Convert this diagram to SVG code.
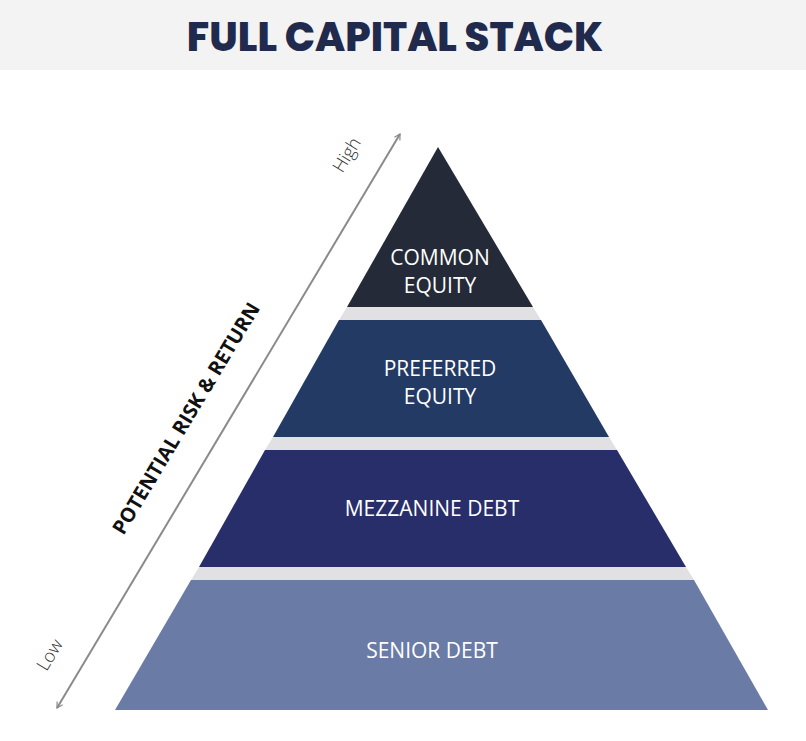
<svg xmlns="http://www.w3.org/2000/svg" width="806" height="741" viewBox="0 0 806 741">
<defs>
<style>
.lbl{font-family:"Open Sans","Liberation Sans",sans-serif;font-size:21px;fill:#fff;text-anchor:middle}
.gap{fill:#e1e1e4}
</style>
<marker id="ah" viewBox="0 0 10 10" refX="8" refY="5" markerWidth="8" markerHeight="8" orient="auto-start-reverse" markerUnits="userSpaceOnUse">
<path d="M1,1 L8,5 L1,9" fill="none" stroke="#8a8a8a" stroke-width="1.5"/>
</marker>
</defs>
<rect width="806" height="741" fill="#fff"/>
<rect width="806" height="70" fill="#f3f3f3"/>
<text x="395" y="51" font-family="Poppins,'Open Sans','Liberation Sans',sans-serif" font-weight="800" font-size="40" fill="#1f2a4d" text-anchor="middle">FULL CAPITAL STACK</text>
<g id="gaps">
<polygon class="gap" points="347,307 533,307 541,320 339,320"/>
<polygon class="gap" points="273,437 609,437 617,450 265,450"/>
<polygon class="gap" points="199,567 686,567 694,580 191,580"/>
</g>
<g id="common-equity">
<polygon points="438,147 533,307 347,307" fill="#242a37"/>
<text class="lbl" x="440" y="265">COMMON</text>
<text class="lbl" x="440" y="293">EQUITY</text>
</g>
<g id="preferred-equity">
<polygon points="339,320 541,320 609,437 273,437" fill="#233a64"/>
<text class="lbl" x="440" y="376">PREFERRED</text>
<text class="lbl" x="440" y="404">EQUITY</text>
</g>
<g id="mezzanine-debt">
<polygon points="265,450 617,450 686,567 199,567" fill="#272e6a"/>
<text class="lbl" x="432" y="516">MEZZANINE DEBT</text>
</g>
<g id="senior-debt">
<polygon points="191,580 694,580 768,710 115,710" fill="#6a7ba6"/>
<text class="lbl" x="432" y="658">SENIOR DEBT</text>
</g>
<g id="connectors">
<line x1="57" y1="708" x2="400" y2="134" stroke="#8a8a8a" stroke-width="2" marker-start="url(#ah)" marker-end="url(#ah)"/>
</g>
<g id="axis-labels" font-family="'Open Sans','Liberation Sans',sans-serif">
<text transform="translate(192,422) rotate(-59)" font-weight="700" font-size="20" fill="#111" text-anchor="middle">POTENTIAL RISK &amp; RETURN</text>
<text transform="translate(352,158) rotate(-59)" font-weight="300" font-size="18" fill="#333" text-anchor="middle">High</text>
<text transform="translate(55,658) rotate(-59)" font-weight="300" font-size="18" fill="#333" text-anchor="middle">Low</text>
</g>
</svg>
